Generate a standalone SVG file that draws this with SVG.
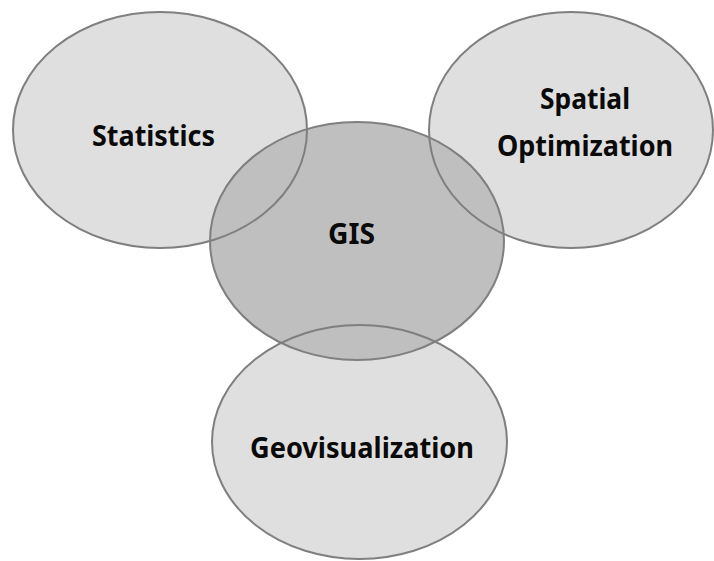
<svg xmlns="http://www.w3.org/2000/svg" width="714" height="561" viewBox="0 0 714 561">
  <style>
    .fill-outer { fill: #dfdfdf; stroke: none; }
    .fill-core { fill: #bfbfbf; stroke: none; }
    .edge { fill: none; stroke: #7f7f7f; stroke-width: 2; }
    .label { font-family: "Noto Sans", "Open Sans", "Liberation Sans", sans-serif; font-weight: bold; font-size: 28px; fill: #0a0a0a; text-anchor: middle; }
  </style>
  <rect width="714" height="561" fill="#ffffff"/>
  <g id="fills">
    <ellipse class="fill-outer" cx="160" cy="130" rx="147" ry="118"/>
    <ellipse class="fill-outer" cx="571" cy="130" rx="142" ry="118"/>
    <ellipse class="fill-outer" cx="359.5" cy="442" rx="147.5" ry="117"/>
    <ellipse class="fill-core" cx="357" cy="241" rx="147" ry="119"/>
  </g>
  <g id="statistics">
    <ellipse class="edge" cx="160" cy="130" rx="147" ry="118"/>
    <text class="label" x="153.5" y="146" textLength="123" lengthAdjust="spacingAndGlyphs">Statistics</text>
  </g>
  <g id="spatial-optimization">
    <ellipse class="edge" cx="571" cy="130" rx="142" ry="118"/>
    <text class="label" x="585" y="109" textLength="90" lengthAdjust="spacingAndGlyphs">Spatial</text>
    <text class="label" x="585" y="156" textLength="176" lengthAdjust="spacingAndGlyphs">Optimization</text>
  </g>
  <g id="gis">
    <ellipse class="edge" cx="357" cy="241" rx="147" ry="119"/>
    <text class="label" x="351.5" y="244" textLength="47" lengthAdjust="spacingAndGlyphs">GIS</text>
  </g>
  <g id="geovisualization">
    <ellipse class="edge" cx="359.5" cy="442" rx="147.5" ry="117"/>
    <text class="label" x="362" y="458" textLength="224" lengthAdjust="spacingAndGlyphs">Geovisualization</text>
  </g>
  <g id="connectors"></g>
</svg>
